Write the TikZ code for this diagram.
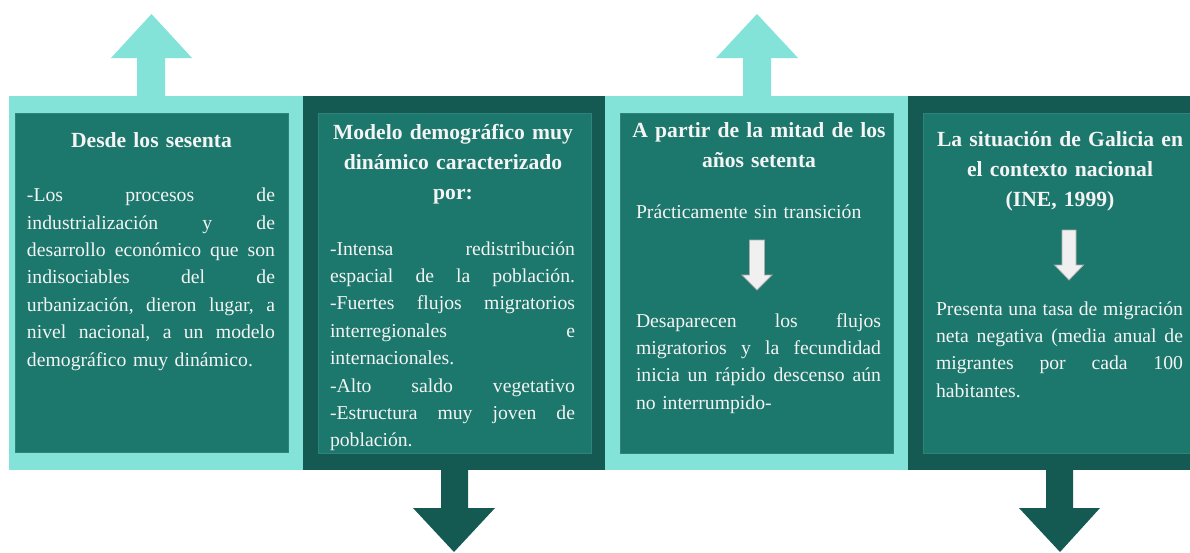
\documentclass[tikz,border=0pt]{standalone}
\usepackage{fontspec}
\setmainfont{Liberation Serif}
\definecolor{lightteal}{HTML}{83E3D8}
\definecolor{darkteal}{HTML}{155A52}
\definecolor{boxteal}{HTML}{1C776C}
\definecolor{boxedge}{HTML}{2F8378}
\definecolor{txt}{HTML}{F4F4F4}
\tikzset{
  innerbox/.style={fill=boxteal, draw=boxedge, line width=0.8pt},
  ttl/.style={text=txt, inner sep=0pt, outer sep=0pt, anchor=base, align=center, text width=270pt, font=\bfseries\fontsize{21.6}{30}\selectfont},
  body/.style={text=txt, inner sep=0pt, outer sep=0pt, anchor=base west, align=left, font=\fontsize{19.7}{27.4}\selectfont},
  whitearrow/.style={fill=gray!12, draw=gray!65, line width=0.8pt},
}
\begin{document}
\begin{tikzpicture}[x=1pt,y=-1pt]
\useasboundingbox (0,0) rectangle (1190,552);
% outer panels
\fill[lightteal] (9,96) rectangle (303,470);
\fill[darkteal] (303,96) rectangle (605,470);
\fill[lightteal] (605,96) rectangle (908,470);
\fill[darkteal] (908,96) rectangle (1192,470);
% block arrows
\fill[lightteal] (137,97) -- (137,58) -- (111,58) -- (151.5,14) -- (192,58) -- (165,58) -- (165,97) -- cycle;
\fill[lightteal] (743,97) -- (743,58) -- (716,58) -- (757,14) -- (798,58) -- (771,58) -- (771,97) -- cycle;
\fill[darkteal] (441,469) -- (441,508) -- (413,508) -- (454,552) -- (495,508) -- (468,508) -- (468,469) -- cycle;
\fill[darkteal] (1046,469) -- (1046,508) -- (1019,508) -- (1060,552) -- (1100,508) -- (1073,508) -- (1073,469) -- cycle;
% inner boxes
\draw[innerbox] (15,113) rectangle (288,452);
\draw[innerbox] (318,113) rectangle (591,453);
\draw[innerbox] (620,113) rectangle (893,453);
\draw[innerbox] (923,113) rectangle (1196,453);
% white arrows
\draw[whitearrow] (749.5,240) -- (764.5,240) -- (764.5,275) -- (772,275) -- (757,290) -- (742,275) -- (749.5,275) -- cycle;
\draw[whitearrow] (1062,230) -- (1076,230) -- (1076,265) -- (1083.5,265) -- (1069,280) -- (1054.5,265) -- (1062,265) -- cycle;
% panel 1
\node[ttl] (t1) at (151.5,147) {Desde los sesenta};
\node[body, text width=248pt] (b1) at (27,201.7) {%
-Los\hfill procesos\hfill de\\
industrialización\hfill y\hfill de\\
desarrollo\hfill económico\hfill que\hfill son\\
indisociables\hfill del\hfill de\\
urbanización,\hfill dieron\hfill lugar,\hfill a\\
nivel\hfill nacional,\hfill a\hfill un\hfill modelo\\
demográfico muy dinámico.};
% panel 2
\node[ttl] (t2) at (453,139) {Modelo demográfico muy\\dinámico caracterizado\\por:};
\node[body, text width=245pt] (b2) at (330,255) {%
-Intensa\hfill redistribución\\
espacial\hfill de\hfill la\hfill población.\\
-Fuertes\hfill flujos\hfill migratorios\\
interregionales\hfill e\\
internacionales.\\
-Alto\hfill saldo\hfill vegetativo\\
-Estructura\hfill muy\hfill joven\hfill de\\
población.};
% panel 3
\node[ttl] (t3) at (759,137) {A partir de la mitad de los\\años setenta};
\node[body, text width=245pt] (s3) at (636,218) {Prácticamente sin transición};
\node[body, text width=245pt] (b3) at (636,327) {%
Desaparecen\hfill los\hfill flujos\\
migratorios\hfill y\hfill la\hfill fecundidad\\
inicia\hfill un\hfill rápido\hfill descenso\hfill aún\\
no interrumpido-};
% panel 4
\node[ttl] (t4) at (1060,146) {La situación de Galicia en\\el contexto nacional\\(INE, 1999)};
\node[body, text width=247pt] (b4) at (936,315) {%
Presenta\hfill una\hfill tasa\hfill de\hfill migración\\
neta\hfill negativa\hfill (media\hfill anual\hfill de\\
migrantes\hfill por\hfill cada\hfill 100\\
habitantes.};
\end{tikzpicture}
\end{document}
